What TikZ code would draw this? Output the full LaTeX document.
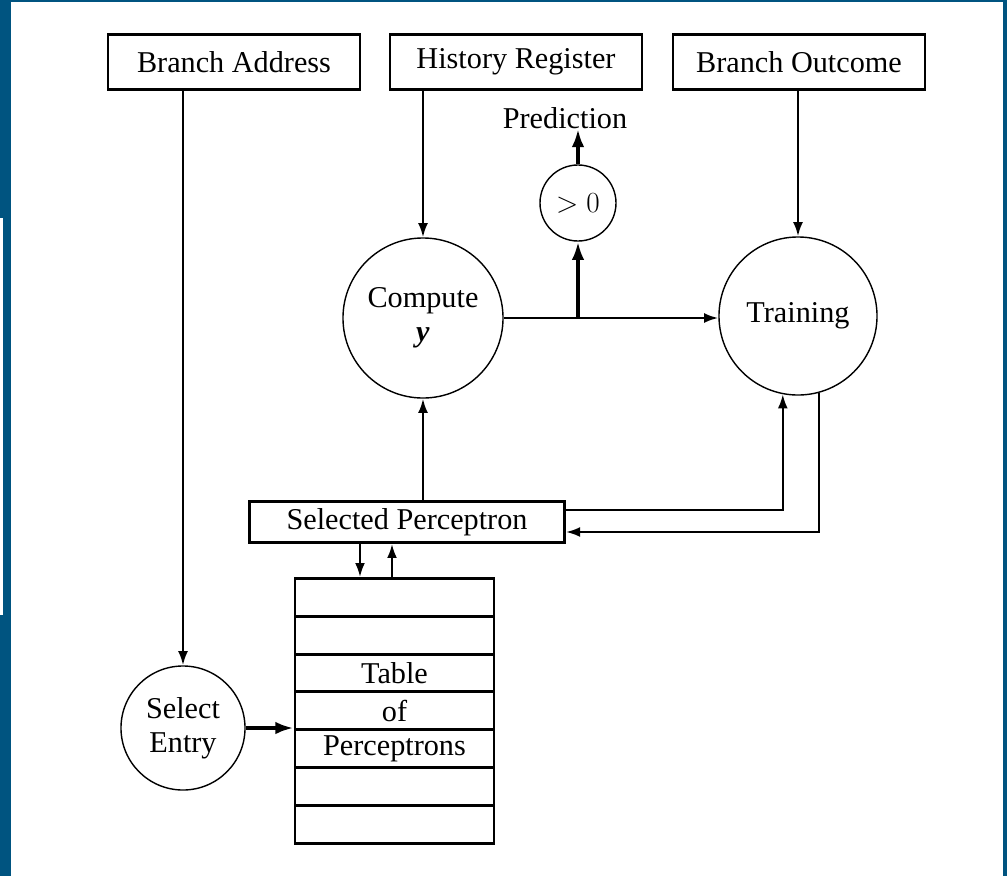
\documentclass[tikz,border=0pt]{standalone}
\usepackage{fontspec}
\setmainfont{Liberation Serif}
\usetikzlibrary{arrows.meta}

\definecolor{frameblue}{RGB}{0,84,128}

\begin{document}
\begin{tikzpicture}[x=0.025cm, y=-0.025cm, align=center,
    font=\fontsize{21.5}{24.5}\selectfont]
    \tikzstyle{every node}=[inner sep=0pt];
    \tikzstyle{inbox}=[draw, line width=2pt, minimum width=6.3cm, minimum height=1.375cm];
    \tikzstyle{selbox}=[draw, line width=2pt, minimum width=7.875cm, minimum height=1.025cm];
    \tikzstyle{rowbox}=[draw, line width=2pt, minimum width=4.975cm, minimum height=0.945cm];
    \tikzstyle{unit}=[draw, circle, line width=1pt];
    \tikzstyle{arr}=[line width=1.6pt, -{Latex[length=10pt, width=7pt]}];
    \tikzstyle{bigarr}=[line width=2.8pt, -{Latex[length=13pt, width=9pt]}];

    % screenshot frame
    \useasboundingbox (0,0) rectangle (1007,876);
    \fill[frameblue] (0,0) rectangle (11,876);
    \fill[white] (0,218) rectangle (3,615);
    \fill[frameblue] (0,0) rectangle (1007,2);
    \fill[frameblue] (1003,0) rectangle (1007,876);

    \node at (234, 62) (baddr) [inbox] {Branch Address};
    \node at (516, 62) (hreg)  [inbox] {History Register};
    \node at (799, 62) (bout)  [inbox] {Branch Outcome};

    \node at (565, 118) (pred) {Prediction};
    \node at (578, 203) (gt)   [unit, minimum size=1.9cm] {$>0$};
    \node at (423, 318) (comp) [unit, minimum size=4cm] {Compute\\\textbf{\textit{y}}};
    \node at (798, 316) (train) [unit, minimum size=3.95cm] {Training};
    \coordinate (jn) at (578, 318);

    \node at (407, 522) (sel) [selbox] {Selected Perceptron};
    \node at (183, 728) (sent) [unit, minimum size=3.1cm] {Select\\Entry};

    \node at (394.5, 597.4) (r1) [rowbox] {};
    \node at (394.5, 635.2) (r2) [rowbox] {};
    \node at (394.5, 673.0) (r3) [rowbox] {Table};
    \node at (394.5, 710.8) (r4) [rowbox] {of};
    \node at (394.5, 748.6) (r5) [rowbox] {Perceptrons};
    \node at (394.5, 786.4) (r6) [rowbox] {};
    \node at (394.5, 824.2) (r7) [rowbox] {};

    \draw[arr] (baddr.south -| sent.north) -- (sent.north);
    \draw[arr] (hreg.south -| comp.north) -- (comp.north);
    \draw[arr] (bout.south -| train.north) -- (train.north);

    \draw[arr] (comp.east |- jn) -- (train.west |- jn);
    \draw[bigarr] (jn) -- (gt.south);
    \draw[bigarr] (gt.north) -- (pred.south -| gt.north);

    \draw[arr] (sel.north -| comp.south) -- (comp.south);
    \draw[arr] (sel.east |- 0,510) -| (train.259);
    \draw[arr] (train.285) |- (sel.east |- 0,532);

    \draw[arr] (sel.south -| 360,0) -- (r1.north -| 360,0);
    \draw[arr] (r1.north -| 392,0) -- (sel.south -| 392,0);
    \draw[bigarr] (sent.east) -- (sent.east -| r1.west);
\end{tikzpicture}
\end{document}
